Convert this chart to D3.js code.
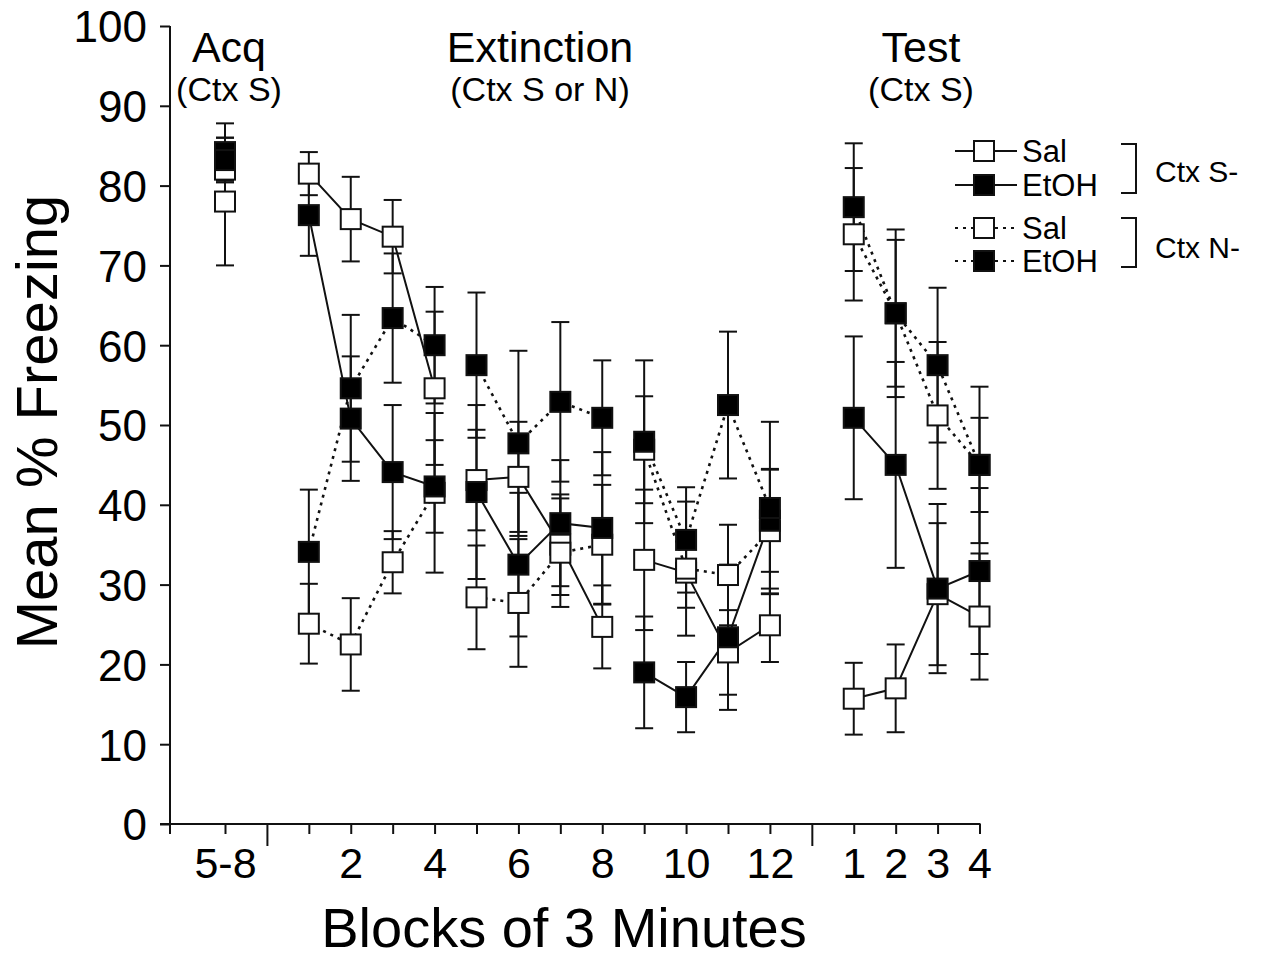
<!DOCTYPE html>
<html>
<head>
<meta charset="utf-8">
<script src="https://cdn.jsdelivr.net/npm/d3@7"></script>
<style>
  html, body { margin: 0; padding: 0; background: #fff; }
  svg { display: block; font-family: "Liberation Sans", Arial, Helvetica, sans-serif; }
</style>
</head>
<body>
<svg id="chart" width="1268" height="960"></svg>
<script>
// Blocks: one acquisition summary (5-8), 12 extinction blocks, 4 test blocks
const blockLabels = ["5-8", "1", "2", "3", "4", "5", "6", "7", "8", "9", "10", "11", "12", "1", "2", "3", "4"];
// Session each block belongs to; points are joined only within a session
const blockSession = [0, 1, 1, 1, 1, 2, 2, 2, 2, 3, 3, 3, 3, 4, 4, 4, 4];
// Blocks that carry a tick label on the x axis
const labelledBlocks = [0, 2, 4, 6, 8, 10, 12, 13, 14, 15, 16];
const yTicks = [0, 10, 20, 30, 40, 50, 60, 70, 80, 90, 100];

// Mean % freezing and SEM per group
const ctxSSalMean  = [78.0, 81.5, 75.8, 73.6, 54.6, 43.1, 43.5, 35.0, 24.7, 33.1, 31.5, 21.5, 24.9, 15.7, 17.0, 28.8, 26.0];
const ctxSSalSem   = [8.0, 2.7, 5.3, 4.6, 9.6, 6.3, 6.9, 6.3, 5.2, 8.8, 4.4, 5.3, 4.6, 4.5, 5.5, 8.9, 7.9];
const ctxSEtohMean = [84.2, 76.3, 50.8, 44.1, 42.3, 41.6, 32.5, 37.7, 37.1, 19.0, 15.9, 23.4, 38.0, 50.9, 45.0, 29.5, 31.7];
const ctxSEtohSem  = [3.6, 5.1, 7.8, 8.4, 5.8, 10.9, 9.0, 7.9, 9.5, 7.0, 4.4, 9.1, 6.4, 10.2, 12.9, 10.6, 10.4];
const ctxNSalMean  = [82.0, 25.1, 22.5, 32.8, 41.5, 28.4, 27.7, 34.0, 35.0, 46.9, 32.0, 31.2, 36.7, 73.9, 64.0, 51.2, 45.0];
const ctxNSalSem   = [2.8, 5.0, 5.8, 3.9, 10.0, 6.5, 8.0, 6.8, 7.5, 6.7, 8.4, 6.3, 7.8, 8.3, 9.2, 9.2, 5.9];
const ctxNEtohMean = [83.2, 34.1, 54.6, 63.4, 60.0, 57.5, 47.7, 52.9, 50.9, 47.9, 35.6, 52.5, 39.6, 77.3, 64.0, 57.5, 45.0];
const ctxNEtohSem  = [2.8, 7.8, 9.2, 8.1, 7.3, 9.1, 11.6, 10.0, 7.2, 10.2, 6.6, 9.2, 10.8, 8.0, 10.5, 9.7, 9.8];

// Draw order: open symbols first, filled on top
const groups = [
  { name: "Sal",  ctx: "S", mean: ctxSSalMean,  sem: ctxSSalSem,  filled: false, dotted: false },
  { name: "Sal",  ctx: "N", mean: ctxNSalMean,  sem: ctxNSalSem,  filled: false, dotted: true },
  { name: "EtOH", ctx: "S", mean: ctxSEtohMean, sem: ctxSEtohSem, filled: true,  dotted: false },
  { name: "EtOH", ctx: "N", mean: ctxNEtohMean, sem: ctxNEtohSem, filled: true,  dotted: true }
];
const legendOrder = [0, 2, 1, 3];

const svg = d3.select("#chart");
const FONT = '"Liberation Sans", Arial, Helvetica, sans-serif';

// Slot positions on the x axis: gaps separate acquisition / extinction / test
const slotOf = i => i === 0 ? 0 : (i <= 12 ? i + 1 : i + 2);
const separatorSlots = [1, 14];

const x = d3.scaleLinear().domain([0, 18]).range([225, 979.5]);
const y = d3.scaleLinear().domain([0, 100]).range([824, 26]);
const axisLeftX = 170;

const STROKE = "#111";

// ---- Y axis
const yAxis = d3.axisLeft(y).tickValues(yTicks).tickSize(10).tickPadding(13).tickSizeOuter(0);
const gy = svg.append("g").attr("transform", `translate(${axisLeftX},0)`).call(yAxis);
gy.select(".domain").remove();
gy.selectAll(".tick line").attr("stroke", STROKE).attr("stroke-width", 2);
gy.selectAll(".tick text")
  .attr("font-family", FONT).attr("font-size", 44).attr("fill", "#000")
  .attr("dy", "0.36em");
svg.append("line")
  .attr("x1", axisLeftX).attr("x2", axisLeftX)
  .attr("y1", y(100)).attr("y2", y(0) + 10)
  .attr("stroke", STROKE).attr("stroke-width", 2);

// ---- X axis
const allSlots = d3.range(0, 19);
const labelBySlot = new Map(labelledBlocks.map(i => [slotOf(i), blockLabels[i]]));
const xAxis = d3.axisBottom(x).tickValues(allSlots).tickSize(10).tickSizeOuter(0)
  .tickFormat(s => labelBySlot.get(s) || "");
const gx = svg.append("g").attr("transform", `translate(0,${y(0)})`).call(xAxis);
gx.select(".domain").remove();
gx.selectAll(".tick line").attr("stroke", STROKE).attr("stroke-width", 2)
  .attr("y2", s => separatorSlots.includes(s) ? 22 : 10);
gx.selectAll(".tick text")
  .attr("font-family", FONT).attr("font-size", 43).attr("fill", "#000")
  .attr("dy", null).attr("y", 54);
svg.append("line")
  .attr("x1", axisLeftX - 10).attr("x2", x(18) + 1)
  .attr("y1", y(0)).attr("y2", y(0))
  .attr("stroke", STROKE).attr("stroke-width", 2);

// ---- Axis titles
svg.append("text")
  .attr("transform", `translate(57,${422}) rotate(-90)`)
  .attr("text-anchor", "middle")
  .attr("font-family", FONT).attr("font-size", 58).attr("fill", "#000")
  .text("Mean % Freezing");
svg.append("text")
  .attr("x", 564).attr("y", 947)
  .attr("text-anchor", "middle")
  .attr("font-family", FONT).attr("font-size", 56).attr("fill", "#000")
  .text("Blocks of 3 Minutes");

// ---- Phase headings
const phases = [
  { title: "Acq", sub: "(Ctx S)", cx: 229 },
  { title: "Extinction", sub: "(Ctx S or N)", cx: 540 },
  { title: "Test", sub: "(Ctx S)", cx: 921 }
];
phases.forEach(p => {
  svg.append("text").attr("x", p.cx).attr("y", 62).attr("text-anchor", "middle")
    .attr("font-family", FONT).attr("font-size", 43).attr("fill", "#000").text(p.title);
  svg.append("text").attr("x", p.cx).attr("y", 101).attr("text-anchor", "middle")
    .attr("font-family", FONT).attr("font-size", 34).attr("fill", "#000").text(p.sub);
});

// ---- Data layers
const gErr = svg.append("g");
const gLines = svg.append("g");
const gMarks = svg.append("g");
const MARK = 20, CAP = 9;

groups.forEach(g => {
  const pts = g.mean.map((m, i) => ({ i, m, s: g.sem[i], session: blockSession[i], cx: x(slotOf(i)) }));

  // error bars
  const eb = gErr.selectAll(null).data(pts).enter().append("g");
  eb.append("line").attr("x1", d => d.cx).attr("x2", d => d.cx)
    .attr("y1", d => y(d.m + d.s)).attr("y2", d => y(d.m - d.s))
    .attr("stroke", STROKE).attr("stroke-width", 2);
  eb.append("line").attr("x1", d => d.cx - CAP).attr("x2", d => d.cx + CAP)
    .attr("y1", d => y(d.m + d.s)).attr("y2", d => y(d.m + d.s))
    .attr("stroke", STROKE).attr("stroke-width", 2);
  eb.append("line").attr("x1", d => d.cx - CAP).attr("x2", d => d.cx + CAP)
    .attr("y1", d => y(d.m - d.s)).attr("y2", d => y(d.m - d.s))
    .attr("stroke", STROKE).attr("stroke-width", 2);

  // connecting lines within each session
  const line = d3.line().x(d => d.cx).y(d => y(d.m));
  d3.groups(pts, d => d.session).forEach(([session, seg]) => {
    if (seg.length < 2) return;
    gLines.append("path").attr("d", line(seg))
      .attr("fill", "none").attr("stroke", STROKE)
      .attr("stroke-width", g.dotted ? 2.6 : 2)
      .attr("stroke-dasharray", g.dotted ? "3,5" : null);
  });

  // square symbols
  gMarks.selectAll(null).data(pts).enter().append("rect")
    .attr("x", d => d.cx - MARK / 2).attr("y", d => y(d.m) - MARK / 2)
    .attr("width", MARK).attr("height", MARK)
    .attr("fill", g.filled ? "#000" : "#fff")
    .attr("stroke", STROKE).attr("stroke-width", 2);
});

// ---- Legend
const legRows = [151, 185, 228, 261];
const leg = svg.append("g");
legendOrder.forEach((gi, r) => {
  const g = groups[gi];
  const cy = legRows[r];
  leg.append("line").attr("x1", 955).attr("x2", 1017).attr("y1", cy).attr("y2", cy)
    .attr("stroke", STROKE).attr("stroke-width", g.dotted ? 2.2 : 2)
    .attr("stroke-dasharray", g.dotted ? "3,5" : null);
  leg.append("rect").attr("x", 984 - 10).attr("y", cy - 10).attr("width", 20).attr("height", 20)
    .attr("fill", g.filled ? "#000" : "#fff").attr("stroke", STROKE).attr("stroke-width", 2);
  leg.append("text").attr("x", 1022).attr("y", cy + 11)
    .attr("font-family", FONT).attr("font-size", 31).attr("fill", "#000").text(g.name);
});
// Brackets grouping the contexts
const brackets = [
  { top: 144, bottom: 193, label: "Ctx S-", ly: 182 },
  { top: 218, bottom: 267, label: "Ctx N-", ly: 258 }
];
brackets.forEach(b => {
  leg.append("path")
    .attr("d", `M1121,${b.top} H1136 V${b.bottom} H1121`)
    .attr("fill", "none").attr("stroke", STROKE).attr("stroke-width", 2);
  leg.append("text").attr("x", 1155).attr("y", b.ly)
    .attr("font-family", FONT).attr("font-size", 30).attr("fill", "#000").text(b.label);
});
</script>
</body>
</html>
